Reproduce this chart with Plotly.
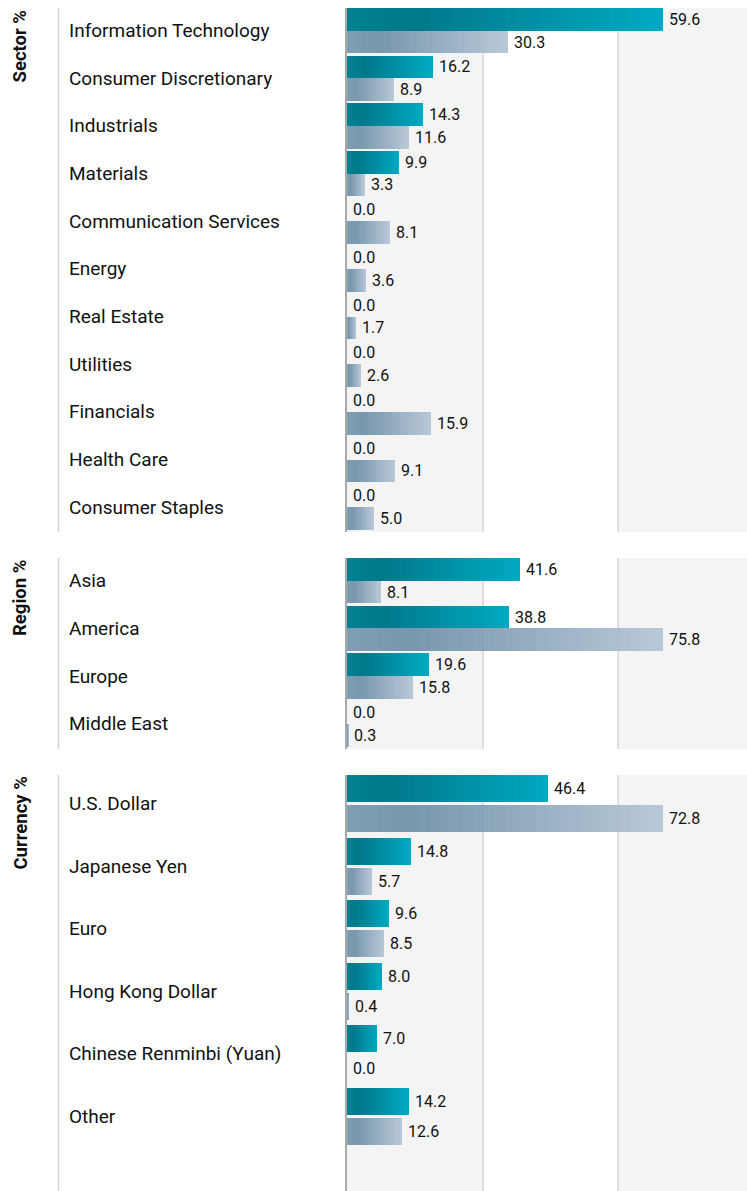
import plotly.graph_objects as go

W, H = 747, 1191

# ---------------- data ----------------
sector_names = ["Information Technology", "Consumer Discretionary", "Industrials", "Materials",
                "Communication Services", "Energy", "Real Estate", "Utilities", "Financials",
                "Health Care", "Consumer Staples"]
sector_fund = [59.6, 16.2, 14.3, 9.9, 0.0, 0.0, 0.0, 0.0, 0.0, 0.0, 0.0]
sector_bench = [30.3, 8.9, 11.6, 3.3, 8.1, 3.6, 1.7, 2.6, 15.9, 9.1, 5.0]

region_names = ["Asia", "America", "Europe", "Middle East"]
region_fund = [41.6, 38.8, 19.6, 0.0]
region_bench = [8.1, 75.8, 15.8, 0.3]

currency_names = ["U.S. Dollar", "Japanese Yen", "Euro", "Hong Kong Dollar",
                  "Chinese Renminbi (Yuan)", "Other"]
currency_fund = [46.4, 14.8, 9.6, 8.0, 7.0, 14.2]
currency_bench = [72.8, 5.7, 8.5, 0.4, 0.0, 12.6]

panel_titles = ["Sector %", "Region %", "Currency %"]

# ---------------- styling ----------------
FONT = "Roboto"
TEAL_STOPS = [(0.0, (0, 130, 146)), (0.2, (0, 120, 138)), (1.0, (0, 169, 194))]
GREY_STOPS = [(0.0, (128, 159, 180)), (0.2, (120, 151, 173)), (1.0, (184, 200, 216))]
NSTEP = 30

# panels: (names, fund, bench, top px, bottom px, row pitch px, bar px, bar gap px)
panels = [
    (sector_names, sector_fund, sector_bench, 8, 532, 47.65, 22.7, 0.0),
    (region_names, region_fund, region_bench, 558, 749, 47.7, 22.7, 0.0),
    (currency_names, currency_fund, currency_bench, 775, 1191, 62.6, 27.0, 3.0),
]

X0_PX = 347
BAR_END_PX = 663


def interp(stops, t):
    for (t0, c0), (t1, c1) in zip(stops[:-1], stops[1:]):
        if t <= t1:
            f = (t - t0) / (t1 - t0) if t1 > t0 else 0
            return "rgb(%d,%d,%d)" % tuple(round(a + (b - a) * f) for a, b in zip(c0, c1))
    return "rgb(%d,%d,%d)" % stops[-1][1]


fig = go.Figure()
shapes = []
annotations = []

for p, (names, fund, bench, top, bot, pitch, barpx, gap) in enumerate(panels):
    xa = "x" if p == 0 else "x%d" % (p + 1)
    ya = "y" if p == 0 else "y%d" % (p + 1)
    xaxis_key = "xaxis" if p == 0 else "xaxis%d" % (p + 1)
    yaxis_key = "yaxis" if p == 0 else "yaxis%d" % (p + 1)

    n = len(names)
    idx = list(range(n))
    width = barpx / pitch
    off = (barpx + gap) / 2 / pitch
    center_off = barpx + gap / 2
    y_top = -center_off / pitch
    y_bot = y_top + (bot - top) / pitch

    vmax = max(max(fund), max(bench))
    xmax = vmax * (W - X0_PX) / (BAR_END_PX - X0_PX)

    for series, stops, sgn in ((fund, TEAL_STOPS, -1), (bench, GREY_STOPS, 1)):
        ys = [i + sgn * off for i in idx]
        for k in range(NSTEP):
            frac = (NSTEP - k) / NSTEP
            t = (NSTEP - k - 0.5) / NSTEP
            fig.add_trace(go.Bar(
                x=[v * frac for v in series], y=ys, orientation="h",
                width=width, marker=dict(color=interp(stops, t), line=dict(width=0)),
                xaxis=xa, yaxis=ya, showlegend=False, hoverinfo="skip"))
        for i, v in zip(idx, series):
            annotations.append(dict(
                x=v, y=i + sgn * off, xref=xa, yref=ya, text="%.1f" % v,
                xanchor="left", yanchor="middle", xshift=4, showarrow=False,
                font=dict(family=FONT, size=16, color="#111111")))

    for i, name in zip(idx, names):
        annotations.append(dict(
            x=67 / W, y=i, xref="paper", yref=ya, text=name, xanchor="left",
            yanchor="middle", showarrow=False,
            font=dict(family=FONT, size=19, color="#111111")))

    annotations.append(dict(
        x=20 / W, y=1, xref="paper", yref=ya + " domain", text="<b>%s</b>" % panel_titles[p],
        textangle=-90, xanchor="center", yanchor="top", showarrow=False,
        font=dict(family=FONT, size=18.5, color="#111111")))

    yd = ya + " domain"
    shapes.append(dict(type="rect", xref="paper", yref=yd, x0=X0_PX / W, x1=482 / W, y0=0, y1=1,
                       fillcolor="#f4f4f4", line=dict(width=0), layer="below"))
    shapes.append(dict(type="rect", xref="paper", yref=yd, x0=619 / W, x1=1, y0=0, y1=1,
                       fillcolor="#f4f4f4", line=dict(width=0), layer="below"))
    for gx in (483, 618):
        shapes.append(dict(type="line", xref="paper", yref=yd, x0=gx / W, x1=gx / W, y0=0, y1=1,
                           line=dict(color="#dedede", width=2), layer="below"))
    shapes.append(dict(type="line", xref="paper", yref=yd, x0=346 / W, x1=346 / W, y0=0, y1=1,
                       line=dict(color="#a9a9a9", width=2), layer="above"))
    shapes.append(dict(type="line", xref="paper", yref=yd, x0=58.5 / W, x1=58.5 / W, y0=0, y1=1,
                       line=dict(color="#d2d2d2", width=1.5), layer="below"))

    fig.layout[xaxis_key] = dict(domain=[X0_PX / W, 1], range=[0, xmax], visible=False,
                                 fixedrange=True, anchor=ya)
    fig.layout[yaxis_key] = dict(domain=[1 - bot / H, 1 - top / H], range=[y_bot, y_top],
                                 visible=False, fixedrange=True, anchor=xa)

fig.update_layout(
    width=W, height=H, margin=dict(l=0, r=0, t=0, b=0),
    paper_bgcolor="white", plot_bgcolor="rgba(0,0,0,0)",
    barmode="overlay", bargap=0, showlegend=False,
    shapes=shapes, annotations=annotations,
    font=dict(family=FONT),
)

fig.write_html(
    "out.html",
    config=dict(displayModeBar=False),
    post_script="document.body.style.margin='0';document.body.style.padding='0';",
)
